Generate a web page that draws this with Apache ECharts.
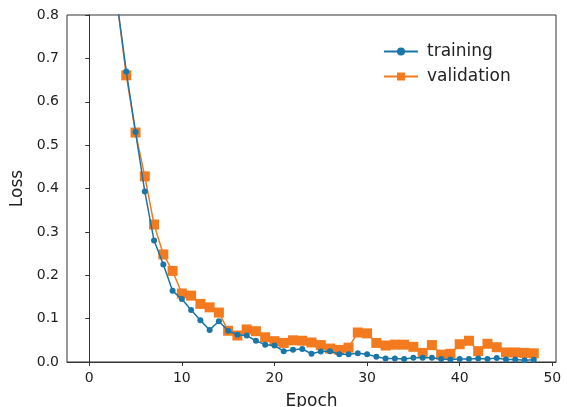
<!DOCTYPE html>
<html>
<head>
<meta charset="utf-8">
<script src="https://cdn.jsdelivr.net/npm/echarts@6/dist/echarts.min.js"></script>
<style>
  html, body { margin: 0; padding: 0; background: #fff; }
  #chart { width: 567px; height: 407px; }
</style>
</head>
<body>
<div id="chart"></div>
<script>
// epochs 0..48
const epochs = Array.from({ length: 49 }, (_, i) => i)

const training = [
  1.85, 1.32, 1.0, 0.83, 0.67, 0.53, 0.393, 0.28, 0.225, 0.164,
  0.145, 0.12, 0.096, 0.074, 0.094, 0.072, 0.063, 0.061, 0.049, 0.04,
  0.038, 0.025, 0.028, 0.03, 0.019, 0.024, 0.025, 0.018, 0.018, 0.02,
  0.018, 0.012, 0.008, 0.008, 0.007, 0.01, 0.01, 0.01, 0.007, 0.006,
  0.007, 0.007, 0.008, 0.007, 0.009, 0.006, 0.006, 0.004, 0.005
]

const validation = [
  1.9, 1.35, 1.02, 0.83, 0.661, 0.529, 0.428, 0.317, 0.248, 0.21,
  0.158, 0.153, 0.134, 0.126, 0.114, 0.072, 0.061, 0.075, 0.071, 0.057,
  0.048, 0.044, 0.05, 0.049, 0.045, 0.039, 0.031, 0.028, 0.033, 0.068,
  0.066, 0.044, 0.038, 0.04, 0.04, 0.035, 0.021, 0.039, 0.017, 0.019,
  0.041, 0.049, 0.025, 0.042, 0.034, 0.022, 0.022, 0.021, 0.02
]

const xTicks = [0, 10, 20, 30, 40, 50]

const chart = echarts.init(document.getElementById('chart'))

const font = 'DejaVu Sans'
const axisColor = '#333'

const option = {
  animation: false,
  textStyle: { fontFamily: font },
  grid: {
    left: 67,
    right: 11,
    top: 15,
    bottom: 45,
    outerBoundsMode: 'none',
    containLabel: false,
    show: true,
    borderColor: axisColor,
    borderWidth: 1
  },
  legend: {
    left: 378,
    top: 38,
    orient: 'vertical',
    itemWidth: 34,
    itemHeight: 10,
    itemGap: 8,
    textStyle: {
      fontFamily: font,
      fontSize: 17,
      color: '#222',
      padding: [0, 0, 0, 4]
    },
    data: ['training', 'validation']
  },
  xAxis: {
    type: 'value',
    min: -2.4,
    max: 50.4,
    name: 'Epoch',
    nameLocation: 'middle',
    nameGap: 31,
    nameTextStyle: { fontSize: 17, color: '#222' },
    splitLine: { show: false },
    axisLine: { onZero: false, lineStyle: { color: axisColor } },
    axisTick: { customValues: xTicks, length: 4, lineStyle: { color: axisColor } },
    axisLabel: {
      customValues: xTicks,
      fontSize: 14,
      color: '#222',
      margin: 9
    }
  },
  yAxis: {
    type: 'value',
    min: 0,
    max: 0.8,
    interval: 0.1,
    name: 'Loss',
    nameLocation: 'middle',
    nameGap: 33,
    nameTextStyle: { fontSize: 17, color: '#222' },
    splitLine: { show: false },
    axisLine: { show: true, lineStyle: { color: axisColor } },
    axisTick: { show: true, length: 4, lineStyle: { color: axisColor } },
    axisLabel: {
      fontSize: 14,
      color: '#222',
      margin: 8,
      formatter: (v) => v.toFixed(1)
    }
  },
  series: [
    {
      name: 'training',
      type: 'line',
      data: epochs.map((e, i) => [e, training[i]]),
      symbol: 'circle',
      symbolSize: 6,
      showAllSymbol: true,
      clip: true,
      z: 3,
      lineStyle: { color: '#1b76a8', width: 1.5 },
      itemStyle: { color: '#1b76a8' }
    },
    {
      name: 'validation',
      type: 'line',
      data: epochs.map((e, i) => [e, validation[i]]),
      symbol: 'rect',
      symbolSize: 10,
      showAllSymbol: true,
      clip: true,
      z: 2,
      lineStyle: { color: '#f47a1f', width: 1.5 },
      itemStyle: { color: '#f47a1f' }
    }
  ]
}

chart.setOption(option)
</script>
</body>
</html>
